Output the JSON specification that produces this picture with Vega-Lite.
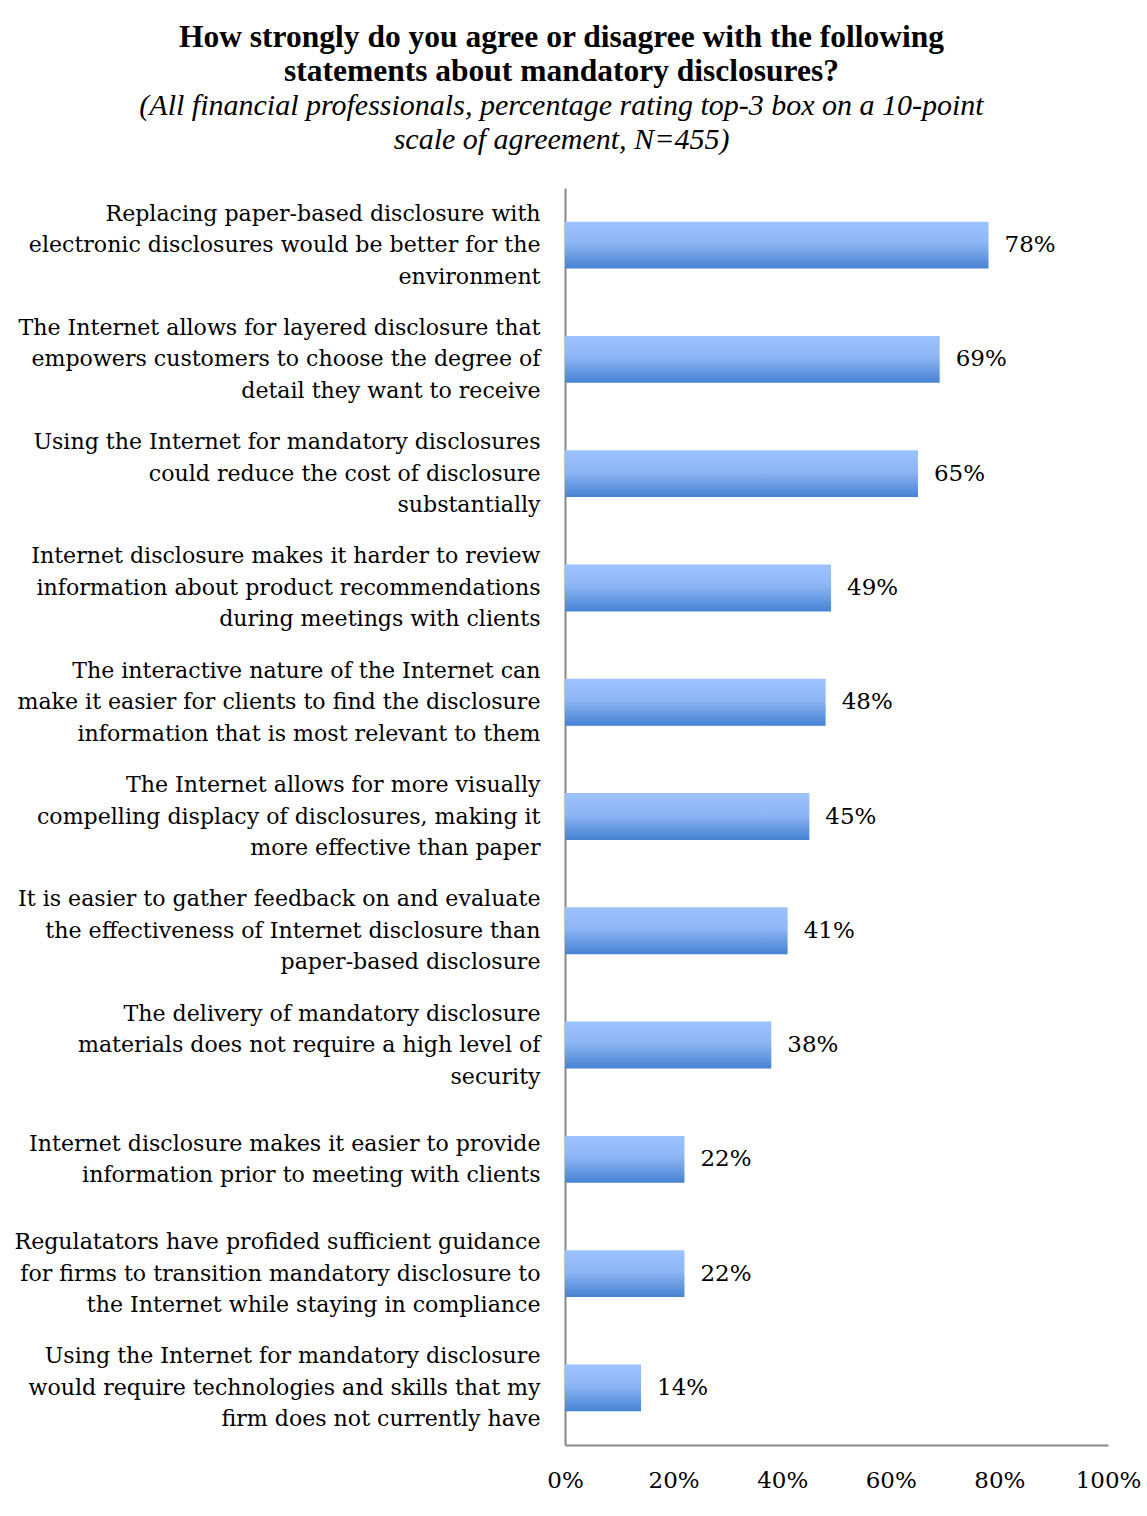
{
  "$schema": "https://vega.github.io/schema/vega-lite/v6.json",
  "autosize": "none",
  "width": 543,
  "height": 1257,
  "padding": {"left": 565, "top": 188, "right": 39, "bottom": 71},
  "background": "white",
  "title": {
    "text": ["How strongly do you agree or disagree with the following", "statements about mandatory disclosures?"],
    "subtitle": ["(All financial professionals, percentage rating top-3 box on a 10-point", "scale of agreement, N=455)"],
    "anchor": "middle",
    "dx": -275,
    "offset": 33,
    "font": "Liberation Serif",
    "fontSize": 31.5,
    "fontWeight": "bold",
    "lineHeight": 34,
    "color": "#000000",
    "subtitleFont": "Liberation Serif",
    "subtitleFontSize": 30,
    "subtitleFontStyle": "italic",
    "subtitleLineHeight": 34,
    "subtitleColor": "#000000",
    "subtitlePadding": 4
  },
  "data": {
    "values": [
      {"label": "Replacing paper-based disclosure with|electronic disclosures would be better for the|environment", "value": 0.78},
      {"label": "The Internet allows for layered disclosure that|empowers customers to choose the degree of|detail they want to receive", "value": 0.69},
      {"label": "Using the Internet for mandatory disclosures|could reduce the cost of disclosure|substantially", "value": 0.65},
      {"label": "Internet disclosure makes it harder to review|information about product recommendations|during meetings with clients", "value": 0.49},
      {"label": "The interactive nature of the Internet can|make it easier for clients to find the disclosure|information that is most relevant to them", "value": 0.48},
      {"label": "The Internet allows for more visually|compelling displacy of disclosures, making it|more effective than paper", "value": 0.45},
      {"label": "It is easier to gather feedback on and evaluate|the effectiveness of Internet disclosure than|paper-based disclosure", "value": 0.41},
      {"label": "The delivery of mandatory disclosure|materials does not require a high level of|security", "value": 0.38},
      {"label": "Internet disclosure makes it easier to provide|information prior to meeting with clients", "value": 0.22},
      {"label": "Regulatators have profided sufficient guidance|for firms to transition mandatory disclosure to|the Internet while staying in compliance", "value": 0.22},
      {"label": "Using the Internet for mandatory disclosure|would require technologies and skills that my|firm does not currently have", "value": 0.14}
    ]
  },
  "encoding": {
    "y": {
      "field": "label",
      "type": "nominal",
      "sort": null,
      "scale": {"paddingInner": 0.59, "paddingOuter": 0.295},
      "axis": {
        "title": null,
        "labelExpr": "split(datum.label, '|')",
        "labelFont": "DejaVu Serif",
        "labelFontSize": 22.1,
        "labelColor": "#000000",
        "labelLineHeight": 31.5,
        "labelPadding": 25,
        "labelLimit": 600,
        "labelOffset": {
          "condition": {"test": "length(split(datum.value, '|')) == 2", "value": -15.75},
          "value": -31.5
        },
        "ticks": false,
        "domainColor": "#888888",
        "domainWidth": 2,
        "grid": false
      }
    },
    "x": {
      "field": "value",
      "type": "quantitative",
      "scale": {"domain": [0, 1]},
      "axis": {
        "title": null,
        "values": [0, 0.2, 0.4, 0.6, 0.8, 1],
        "format": ".0%",
        "labelFont": "DejaVu Serif",
        "labelFontSize": 23,
        "labelColor": "#000000",
        "labelPadding": 24,
        "labelFlush": false,
        "labelOverlap": false,
        "ticks": false,
        "grid": false,
        "domainColor": "#888888",
        "domainWidth": 2
      }
    }
  },
  "layer": [
    {
      "mark": {
        "type": "bar",
        "color": {
          "gradient": "linear",
          "x1": 0, "y1": 0, "x2": 0, "y2": 1,
          "stops": [
            {"offset": 0, "color": "#9DC3FF"},
            {"offset": 0.45, "color": "#8EB6F4"},
            {"offset": 1, "color": "#4682D3"}
          ]
        }
      }
    },
    {
      "mark": {
        "type": "text",
        "align": "left",
        "baseline": "middle",
        "dx": 16,
        "font": "DejaVu Serif",
        "fontSize": 23,
        "color": "#000000"
      },
      "encoding": {
        "text": {"field": "value", "type": "quantitative", "format": ".0%"}
      }
    }
  ],
  "config": {
    "view": {"stroke": null}
  }
}
